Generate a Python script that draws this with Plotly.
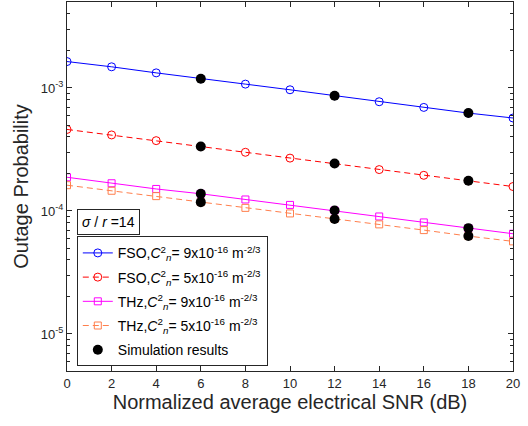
import plotly.graph_objects as go
import numpy as np

snr_db = [0, 2, 4, 6, 8, 10, 12, 14, 16, 18, 20]
fso_c9 = [1.64e-3, 1.486e-3, 1.327e-3, 1.188e-3, 1.075e-3, 9.67e-4, 8.64e-4, 7.73e-4, 6.95e-4, 6.25e-4, 5.70e-4]
fso_c5 = [4.60e-4, 4.15e-4, 3.73e-4, 3.34e-4, 3.00e-4, 2.69e-4, 2.43e-4, 2.17e-4, 1.95e-4, 1.76e-4, 1.58e-4]
thz_c9 = [1.88e-4, 1.68e-4, 1.51e-4, 1.38e-4, 1.24e-4, 1.12e-4, 1.01e-4, 9.02e-5, 8.07e-5, 7.25e-5, 6.53e-5]
thz_c5 = [1.62e-4, 1.46e-4, 1.32e-4, 1.18e-4, 1.06e-4, 9.55e-5, 8.61e-5, 7.78e-5, 6.99e-5, 6.25e-5, 5.66e-5]

sim_snr = [6, 12, 18, 6, 12, 18, 6, 12, 18, 6, 12, 18]
sim_val = [1.188e-3, 8.64e-4, 6.25e-4,
           3.34e-4, 2.43e-4, 1.76e-4,
           1.38e-4, 1.01e-4, 7.25e-5,
           1.18e-4, 8.61e-5, 6.25e-5]

x_ticks = [0, 2, 4, 6, 8, 10, 12, 14, 16, 18, 20]
y_ticks = [1e-5, 1e-4, 1e-3]
y_tick_text = ["10<sup>-5</sup>", "10<sup>-4</sup>", "10<sup>-3</sup>"]
y_minor = [m * 10.0 ** e for e in (-6, -5, -4, -3) for m in (2, 3, 4, 5, 6, 7, 8, 9)]

FONT = "Liberation Sans, Arial, sans-serif"
AX = "#262626"

def lbl(name, v):
    return f"{name},<i>C</i><sup>2</sup><sub><i>n</i></sub>= {v}x10<sup>-16</sup> m<sup>-2/3</sup>"

fig = go.Figure()
fig.add_trace(go.Scatter(x=snr_db, y=fso_c9, mode="lines+markers", name=lbl("FSO", 9),
                         legendgroup="g1",
                         line=dict(color="#0000FF", width=1),
                         marker=dict(symbol="circle-open", size=8, color="#0000FF")))
fig.add_trace(go.Scatter(x=snr_db, y=fso_c5, mode="lines+markers", name=lbl("FSO", 5),
                         legendgroup="g2",
                         line=dict(color="#FF0000", width=1, dash="6px,4px"),
                         marker=dict(symbol="circle-open", size=8, color="#FF0000")))
fig.add_trace(go.Scatter(x=snr_db, y=thz_c9, mode="lines+markers", name=lbl("THz", 9),
                         legendgroup="g3",
                         line=dict(color="#FF00FF", width=1),
                         marker=dict(symbol="square-open", size=7, color="#FF00FF")))
fig.add_trace(go.Scatter(x=snr_db, y=thz_c5, mode="lines+markers", name=lbl("THz", 5),
                         legendgroup="g4",
                         line=dict(color="#FF7F4D", width=1, dash="6px,4px"),
                         marker=dict(symbol="square-open", size=7, color="#FF7F4D")))
fig.add_trace(go.Scatter(x=sim_snr, y=sim_val, mode="markers", name="Simulation results",
                         legendgroup="g5",
                         marker=dict(symbol="circle", size=10, color="black")))

fig.add_annotation(x=0.022, y=0.44, xref="paper", yref="paper", xanchor="left", yanchor="top",
                   text="<i>σ</i> / <i>r</i> =14", showarrow=False,
                   font=dict(family=FONT, size=14, color="black"),
                   bordercolor=AX, borderwidth=1, borderpad=4, bgcolor="white")

axis_common = dict(showline=True, linecolor=AX, linewidth=1, mirror="ticks",
                   ticks="inside", tickcolor=AX, ticklen=5, showgrid=False, zeroline=False,
                   tickfont=dict(family=FONT, size=13, color=AX))

fig.update_xaxes(range=[0, 20], tickvals=x_ticks,
                 title=dict(text="Normalized average electrical SNR (dB)",
                            font=dict(family=FONT, size=20, color=AX), standoff=4),
                 **axis_common)
fig.update_yaxes(type="log", range=[np.log10(5e-6), np.log10(5e-3)],
                 tickvals=y_ticks, ticktext=y_tick_text,
                 minor=dict(ticks="inside", ticklen=3, tickcolor=AX, showgrid=False,
                            tickvals=y_minor),
                 title=dict(text="Outage Probability",
                            font=dict(family=FONT, size=20, color=AX), standoff=6),
                 **axis_common)

fig.update_layout(width=528, height=426,
                  margin=dict(l=67, r=15, t=2, b=55),
                  paper_bgcolor="white", plot_bgcolor="white",
                  showlegend=True,
                  legend=dict(x=0.022, y=0.365, xanchor="left", yanchor="top",
                              bgcolor="white", bordercolor=AX, borderwidth=1,
                              font=dict(family=FONT, size=14, color="black"),
                              itemwidth=30, tracegroupgap=3))

fig.write_html("out.html", config={"displayModeBar": False},
               post_script="document.body.style.margin='0px';document.body.style.padding='0px';")
